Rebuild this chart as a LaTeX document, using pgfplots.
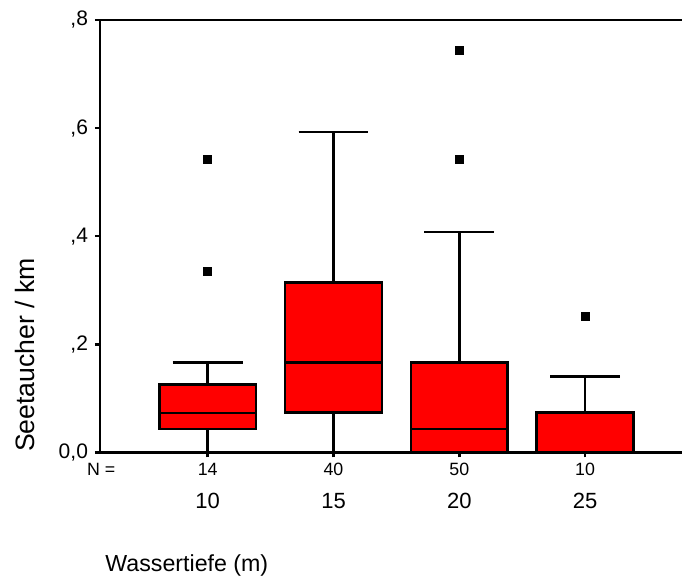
\documentclass[border=0pt]{standalone}
\usepackage{fontspec}
\setmainfont{Liberation Sans}
\usepackage{pgfplots}
\pgfplotsset{compat=1.18}
\usepgfplotslibrary{statistics}

\pgfplotsset{
  bx/.style={solid, fill=red, draw=black, line width=1.3pt,
    mark=square*, mark size=2pt,
    mark options={fill=black, draw=black, line width=0.5pt}},
}

\begin{document}
\begin{tikzpicture}
\useasboundingbox (-50pt,-62.35pt) rectangle (291pt,226.15pt);
\begin{axis}[
  scale only axis,
  width=291pt, height=216.15pt,
  xmin=0.144, xmax=4.77,
  ymin=0, ymax=0.8,
  axis x line*=bottom, axis y line*=left,
  axis line style={-, line width=1.3pt},
  tick style={black, line width=1.3pt},
  tick align=outside,
  major tick length=2.5pt,
  % N counts as the main tick labels
  xtick={1,2,3,4},
  xticklabels={14,40,50,10},
  xticklabel style={anchor=base, yshift=-9.2pt, inner sep=0pt,
    font=\fontsize{8.9}{10}\selectfont},
  % water depth as a second row
  extra x ticks={1,2,3,4},
  extra x tick labels={10,15,20,25},
  extra x tick style={major tick length=0pt,
    xticklabel style={anchor=base, yshift=-19.15pt, inner sep=0pt,
      font=\fontsize{11}{12}\selectfont}},
  ytick={0,0.2,0.4,0.6,0.8},
  yticklabels={{0,0},{,2},{,4},{,6},{,8}},
  yticklabel style={font=\fontsize{10.5}{12}\selectfont},
  xlabel={Wassertiefe (m)},
  xlabel style={at={(axis description cs:0.0086,-0.2762)}, anchor=base west,
    inner sep=0pt, font=\fontsize{11.6}{13}\selectfont},
  ylabel={Seetaucher / km},
  ylabel style={at={(axis description cs:-0.1117,0.225)}, anchor=base,
    inner sep=0pt, font=\fontsize{13.3}{15}\selectfont},
  boxplot/draw direction=y,
  clip=false,
]
% 10 m
\addplot[bx, boxplot prepared={draw position=1, box extend=0.77, whisker extend=0.556,
  lower whisker=0, lower quartile=0.043, median=0.073,
  upper quartile=0.126, upper whisker=0.166}]
  table[row sep=\\, y index=0] {d\\0.541\\0.335\\};
% 15 m
\addplot[bx, boxplot prepared={draw position=2, box extend=0.77, whisker extend=0.556,
  lower whisker=0, lower quartile=0.074, median=0.166,
  upper quartile=0.314, upper whisker=0.593}]
  coordinates {};
% 20 m
\addplot[bx, boxplot prepared={draw position=3, box extend=0.77, whisker extend=0.556,
  lower whisker=0, lower quartile=0, median=0.043,
  upper quartile=0.166, upper whisker=0.408}]
  table[row sep=\\, y index=0] {d\\0.541\\0.743\\};
% 25 m
\addplot[bx, boxplot prepared={draw position=4, box extend=0.77, whisker extend=0.556,
  lower whisker=0, lower quartile=0, median=0,
  upper quartile=0.074, upper whisker=0.140}]
  table[row sep=\\, y index=0] {d\\0.251\\};
\draw[line width=1.3pt] (rel axis cs:0,1) -- (rel axis cs:1,1);
\node[anchor=base west, inner sep=0pt, font=\fontsize{8.9}{10}\selectfont]
  at (axis description cs:-0.02285,-0.0541) {N =};
\end{axis}
\end{tikzpicture}
\end{document}
